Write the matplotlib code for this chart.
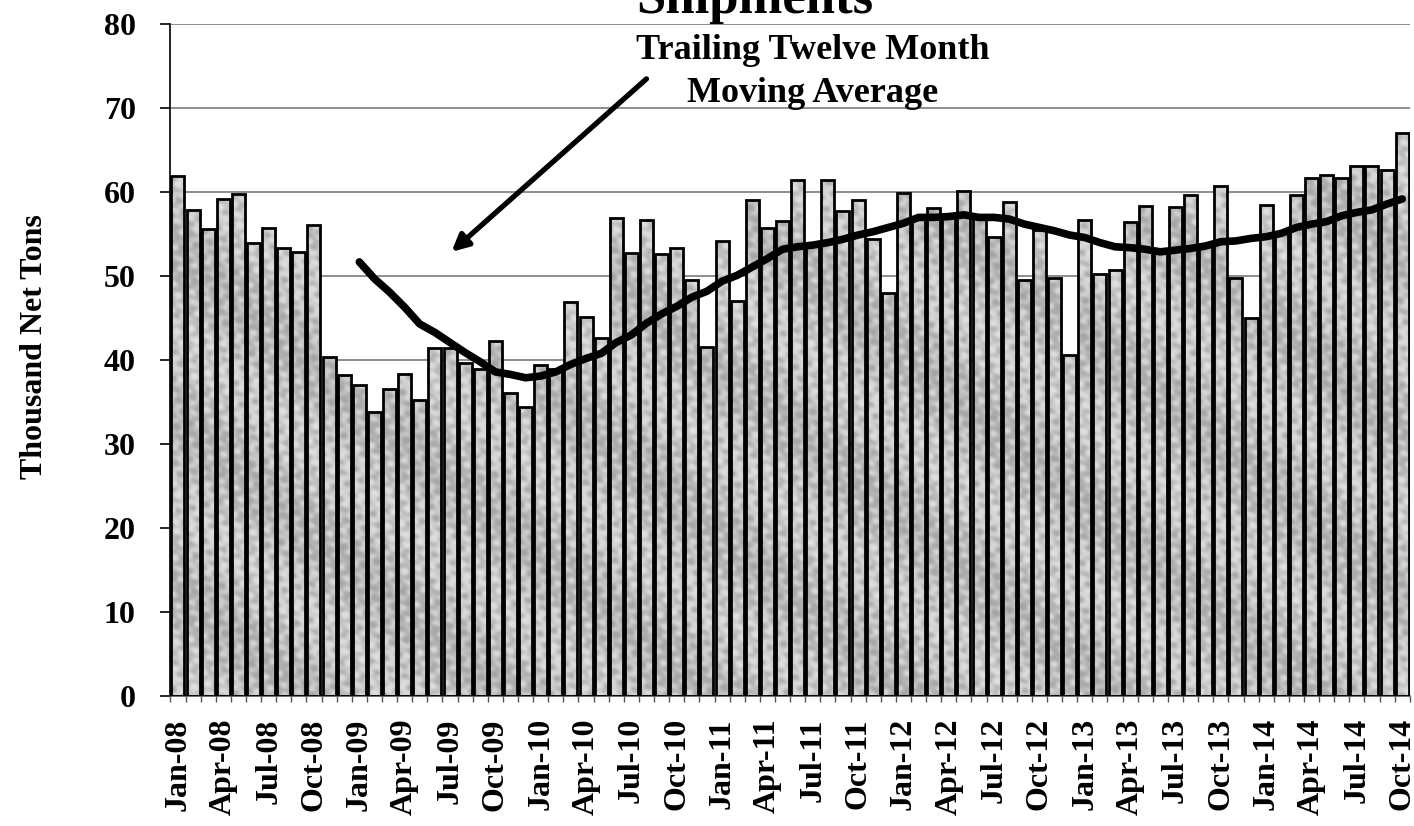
import numpy as np
import matplotlib.pyplot as plt
from matplotlib.path import Path

# monthly shipments, Jan-08 .. Oct-14 (thousand net tons)
months = ['Jan', 'Feb', 'Mar', 'Apr', 'May', 'Jun', 'Jul', 'Aug', 'Sep', 'Oct', 'Nov', 'Dec']
years = ['08', '09', '10', '11', '12', '13', '14']
labels = [m + '-' + y for y in years for m in months][:82]

shipments = [61.9, 57.9, 55.6, 59.2, 59.8, 53.9, 55.7, 53.4, 52.9, 56.1, 40.4, 38.2,
             37.0, 33.8, 36.6, 38.3, 35.2, 41.5, 41.4, 39.7, 38.9, 42.3, 36.1, 34.4,
             39.4, 38.9, 46.9, 45.1, 42.6, 56.9, 52.8, 56.7, 52.7, 53.3, 49.5, 41.6,
             54.2, 47.1, 59.1, 55.7, 56.6, 61.5, 53.6, 61.4, 57.8, 59.1, 54.4, 48.0,
             59.9, 57.0, 58.1, 57.2, 60.2, 57.1, 54.7, 58.8, 49.6, 55.5, 49.8, 40.6,
             56.7, 50.2, 50.7, 56.4, 58.4, 53.2, 58.2, 59.7, 53.8, 60.7, 49.8, 45.0,
             58.5, 55.2, 59.7, 61.7, 62.0, 61.7, 63.1, 63.1, 62.6, 67.1]

# trailing twelve month average, starts Jan-09
ttm_start = 12
ttm_avg = [51.7, 49.7, 48.1, 46.3, 44.3, 43.3, 42.1, 40.9, 39.8, 38.6, 38.3, 37.9,
           38.1, 38.6, 39.5, 40.2, 40.8, 42.1, 43.0, 44.4, 45.5, 46.4, 47.5, 48.2,
           49.4, 50.1, 51.1, 52.1, 53.2, 53.5, 53.7, 54.0, 54.4, 54.9, 55.3, 55.8,
           56.3, 57.0, 57.0, 57.1, 57.3, 57.0, 57.0, 56.8, 56.2, 55.8, 55.4, 54.9,
           54.6, 54.0, 53.5, 53.4, 53.2, 52.9, 53.1, 53.3, 53.6, 54.1, 54.2, 54.5,
           54.7, 55.1, 55.8, 56.2, 56.5, 57.2, 57.6, 57.9, 58.6, 59.2]

plt.rcParams['font.family'] = ['Liberation Serif', 'DejaVu Serif']
plt.rcParams['font.weight'] = 'bold'

fig = plt.figure(figsize=(14.14, 8.26), dpi=100)
ax = fig.add_axes([0.1205, 0.1574, 0.8765, 0.8132])

x = np.arange(len(shipments))
n = len(shipments)
ax.set_xlim(-0.5, n - 0.5)
ax.set_ylim(0, 80)

# granite-like fill: a mottled grey texture clipped to the bar outlines
bars = ax.bar(x, shipments, width=0.86, facecolor='none', edgecolor='black',
              linewidth=2, zorder=3)
gy, gx = np.mgrid[0:680, 0:1240].astype(float)
tex = (0.45 * np.sin(gx * 0.29 + gy * 0.17) * np.sin(gx * 0.13 - gy * 0.33)
       + 0.30 * np.sin(gx * 0.41 - gy * 0.23 + 1.3) * np.sin(gx * 0.07 + gy * 0.45)
       + 0.25 * np.sin(gx * 0.031 - gy * 0.037 + 0.5))
tex = 0.76 + 0.13 * np.tanh(1.6 * tex)
img = ax.imshow(tex, cmap='gray', vmin=0, vmax=1, extent=(-0.5, n - 0.5, 0, 80),
                aspect='auto', interpolation='bilinear', zorder=2)
outline = Path.make_compound_path(*[b.get_path().transformed(b.get_patch_transform())
                                    for b in bars])
img.set_clip_path(outline, ax.transData)

ax.plot(x[ttm_start:], ttm_avg, color='black', linewidth=5.5, solid_capstyle='round',
        solid_joinstyle='round', zorder=4)

ax.set_yticks(range(0, 81, 10))
ax.yaxis.grid(True, color='#7a7a7a', linewidth=1.2, zorder=0)
ax.set_axisbelow(True)

ax.set_xticks(x[::3])
ax.set_xticklabels(labels[::3], rotation=90, fontsize=23, fontweight='bold')
ax.set_xticks(np.arange(-0.5, n), minor=True)
ax.tick_params(axis='x', which='major', length=0, pad=16)
ax.tick_params(axis='x', which='minor', length=4, width=1, color='#555555')
ax.tick_params(axis='y', length=7, width=1.2, pad=18, labelsize=23)

for s in ['top', 'right']:
    ax.spines[s].set_visible(False)
ax.spines['left'].set_linewidth(1.2)
ax.spines['bottom'].set_linewidth(1.2)
ax.spines['bottom'].set_color('#555555')

ax.set_ylabel('Thousand Net Tons', fontsize=23, fontweight='bold')
ax.yaxis.set_label_coords(-0.098, 0.52)

fig.text(0.534, 0.984, 'Shipments', fontsize=38, fontweight='bold', ha='center', va='baseline')

ax.text(42.0, 74.3, 'Trailing Twelve Month\nMoving Average', fontsize=26, fontweight='bold',
        ha='center', va='center', linespacing=1.38)
ax.annotate('', xy=(18.1, 52.9), xytext=(31.0, 73.5),
            arrowprops=dict(arrowstyle='-|>,head_length=1.0,head_width=0.5', color='black',
                            linewidth=3.8, shrinkA=0, shrinkB=0))

fig.savefig('out.png', dpi=100)
